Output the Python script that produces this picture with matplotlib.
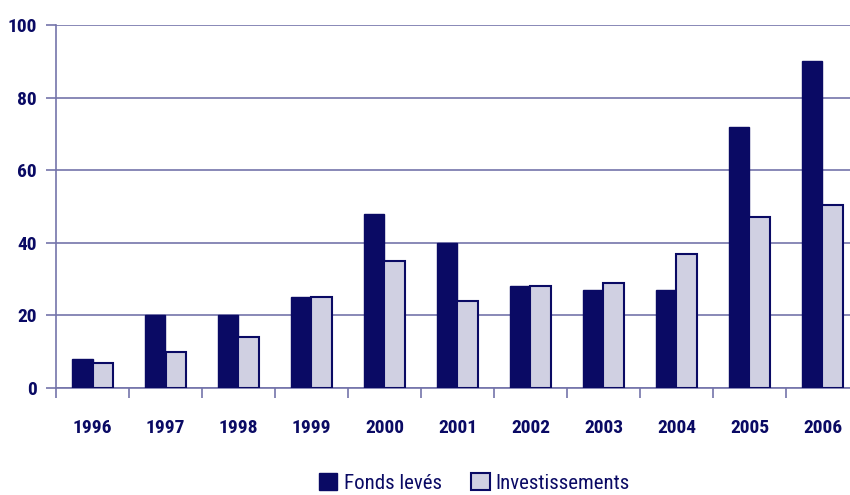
import numpy as np
import matplotlib
matplotlib.use('Agg')
from matplotlib import pyplot as plt
from matplotlib.patches import Patch
from matplotlib import font_manager

years = ['1996', '1997', '1998', '1999', '2000', '2001', '2002', '2003', '2004', '2005', '2006']
fonds_leves = [8, 20, 20, 25, 48, 40, 28, 27, 27, 72, 90]
investissements = [7, 10, 14, 25, 35, 24, 28, 29, 37, 47, 50.5]
y_ticks = [0, 20, 40, 60, 80, 100]

navy = '#0a0a64'
light = '#d0d0e2'
grid = '#7474aa'

# narrow font if there is one, else Arial-like
names = {f.name for f in font_manager.fontManager.ttflist}
narrow = [n for n in ['Liberation Sans Narrow', 'Roboto Condensed', 'Open Sans Condensed'] if n in names]
base = narrow[0] if narrow else 'Liberation Sans'
plt.rcParams['font.family'] = [base, 'DejaVu Sans']
size = 14 if narrow else 12.5

fig = plt.figure(figsize=(8.5, 4.95), dpi=100)
ax = fig.add_axes([56 / 850, 1 - 388 / 495, 803 / 850, 363 / 495])

x = np.arange(len(years))
w = 0.285
ax.bar(x - w / 2, fonds_leves, w, color=navy, edgecolor=navy, linewidth=1, zorder=3)
ax.bar(x + w / 2, investissements, w, color=light, edgecolor=navy, linewidth=1.5, zorder=3)

ax.set_xlim(-0.5, len(years) - 0.5)
ax.set_ylim(0, 100)
ax.set_yticks(y_ticks)
ax.set_yticklabels([str(v) for v in y_ticks], fontsize=size, fontweight='bold', color=navy)
ax.yaxis.grid(True, color=grid, linewidth=1.2, zorder=0)

# category labels in the middle, ticks on the boundaries
ax.set_xticks(x)
ax.set_xticklabels(years, fontsize=size, fontweight='bold', color=navy)
ax.tick_params(axis='x', which='major', length=0, pad=22)
ax.set_xticks(np.arange(len(years) + 1) - 0.5, minor=True)
ax.tick_params(axis='x', which='minor', length=7, width=1.2, color=grid, direction='out')
ax.tick_params(axis='y', length=7, width=1.2, color=grid, pad=7)

for s in ['top', 'right']:
	ax.spines[s].set_visible(False)
for s in ['left', 'bottom']:
	ax.spines[s].set_color(grid)
	ax.spines[s].set_linewidth(1.2)

handles = [Patch(facecolor=navy, edgecolor=navy), Patch(facecolor=light, edgecolor=navy, linewidth=1.5)]
fig.legend(handles, ['Fonds levés', 'Investissements'], loc='center', bbox_to_anchor=(0.558, 0.024),
	ncol=2, frameon=False, fontsize=size + 1, labelcolor=navy, handlelength=0.9, handleheight=0.9,
	handletextpad=0.3, columnspacing=1.4, borderpad=0.2)

fig.savefig('out.png', dpi=100)
